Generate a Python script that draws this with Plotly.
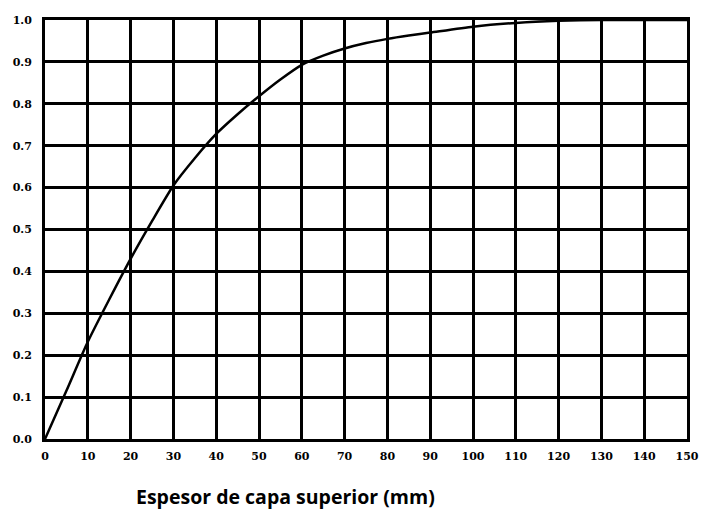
import plotly.graph_objects as go

espesor = [0, 5, 10, 15, 20, 25, 30, 35, 40, 45, 50, 55, 60, 65, 70, 75, 80, 85, 90, 100, 110, 120, 130, 140, 150]
factor = [0.0, 0.115, 0.232, 0.333, 0.43, 0.52, 0.605, 0.67, 0.728, 0.775, 0.818, 0.858, 0.893, 0.915, 0.932,
          0.945, 0.955, 0.963, 0.97, 0.984, 0.993, 0.998, 1.0, 1.0, 1.0]
x_ticks = list(range(0, 151, 10))
y_ticks = [round(i * 0.1, 1) for i in range(11)]
y_labels = [f"{v:.1f}" for v in y_ticks]
x_title = "Espesor de capa superior (mm)"

fig = go.Figure()
fig.add_trace(go.Scatter(x=espesor, y=factor, mode="lines",
                         line=dict(color="black", width=2.5, shape="spline", smoothing=0.6),
                         hoverinfo="skip", showlegend=False))

tickfont = dict(family="DejaVu Serif", size=11, color="black", weight="bold")
fig.update_xaxes(range=[0, 150], tickvals=x_ticks, ticktext=[str(v) for v in x_ticks],
                 showgrid=True, gridcolor="black", gridwidth=2.5, zeroline=False,
                 showline=True, linecolor="black", linewidth=3, mirror=True,
                 ticks="", tickfont=tickfont, ticklabelstandoff=5, automargin=False,
                 ticklabeloverflow="allow")
fig.update_yaxes(range=[0, 1.0], tickvals=y_ticks, ticktext=y_labels,
                 showgrid=True, gridcolor="black", gridwidth=2.5, zeroline=False,
                 showline=True, linecolor="black", linewidth=3, mirror=True,
                 ticks="", tickfont=tickfont, ticklabelstandoff=8, automargin=False,
                 ticklabeloverflow="allow")
fig.add_annotation(text=x_title, xref="paper", yref="paper", x=0.375, y=-0.138,
                   xanchor="center", yanchor="middle", showarrow=False,
                   font=dict(family="Open Sans", size=19.5, color="black", weight="bold"))
fig.update_layout(width=701, height=509, margin=dict(l=45, r=14, t=20, b=70),
                  plot_bgcolor="white", paper_bgcolor="white")
fig.write_html("out.html", config={"displayModeBar": False},
               post_script="document.body.style.margin='0';document.body.style.overflow='hidden';")
